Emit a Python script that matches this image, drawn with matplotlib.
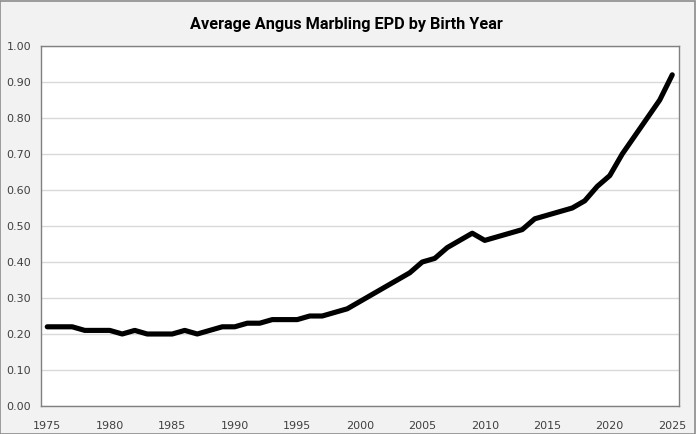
import matplotlib
matplotlib.use("Agg")
import matplotlib.pyplot as plt
import numpy as np

# Datos
years = list(range(1975, 2026))
marbling_epd = [0.22, 0.22, 0.22, 0.21, 0.21, 0.21, 0.20, 0.21, 0.20, 0.20,
                0.20, 0.21, 0.20, 0.21, 0.22, 0.22, 0.23, 0.23, 0.24, 0.24,
                0.24, 0.25, 0.25, 0.26, 0.27, 0.29, 0.31, 0.33, 0.35, 0.37,
                0.40, 0.41, 0.44, 0.46, 0.48, 0.46, 0.47, 0.48, 0.49, 0.52,
                0.53, 0.54, 0.55, 0.57, 0.61, 0.64, 0.70, 0.75, 0.80, 0.85,
                0.92]
y_ticks = np.arange(0, 1.01, 0.1)
x_ticks = list(range(1975, 2026, 5))

fig = plt.figure(figsize=(6.96, 4.34), dpi=100, facecolor='#f2f2f2')
fig.patches.append(plt.Rectangle((0.0005, 0.0008), 0.998, 0.998, transform=fig.transFigure,
                                 fill=False, edgecolor='#8c8c8c', linewidth=1.2))

# Área del gráfico en píxeles: izquierda 41, derecha 678.5, arriba 46, abajo 406
ax = fig.add_axes([41 / 696, 1 - 406 / 434, 637.5 / 696, 360 / 434])
ax.set_facecolor('white')

ax.plot(years, marbling_epd, color='black', linewidth=3.7, solid_capstyle='round',
        solid_joinstyle='round', zorder=3)

ax.set_xlim(1974.5, 2025.5)
ax.set_ylim(0, 1.0)
ax.set_xticks(x_ticks)
ax.set_yticks(y_ticks)
ax.set_yticklabels([f"{v:.2f}" for v in y_ticks])

ax.grid(axis='y', color='#d9d9d9', linewidth=1.0, zorder=0)
ax.tick_params(length=0, labelsize=8, labelcolor='#404040')
ax.tick_params(axis='y', pad=7)
ax.tick_params(axis='x', pad=11)
for s in ax.spines.values():
    s.set_color('#808080')
    s.set_linewidth(1.0)

fig.text(0.497, 1 - 24 / 434, 'Average Angus Marbling EPD by Birth Year',
         ha='center', va='center', fontsize=11.7, fontweight='bold',
         family=['Liberation Sans Narrow', 'Roboto'], stretch='condensed')

fig.savefig('out.png', dpi=100, facecolor=fig.get_facecolor())
